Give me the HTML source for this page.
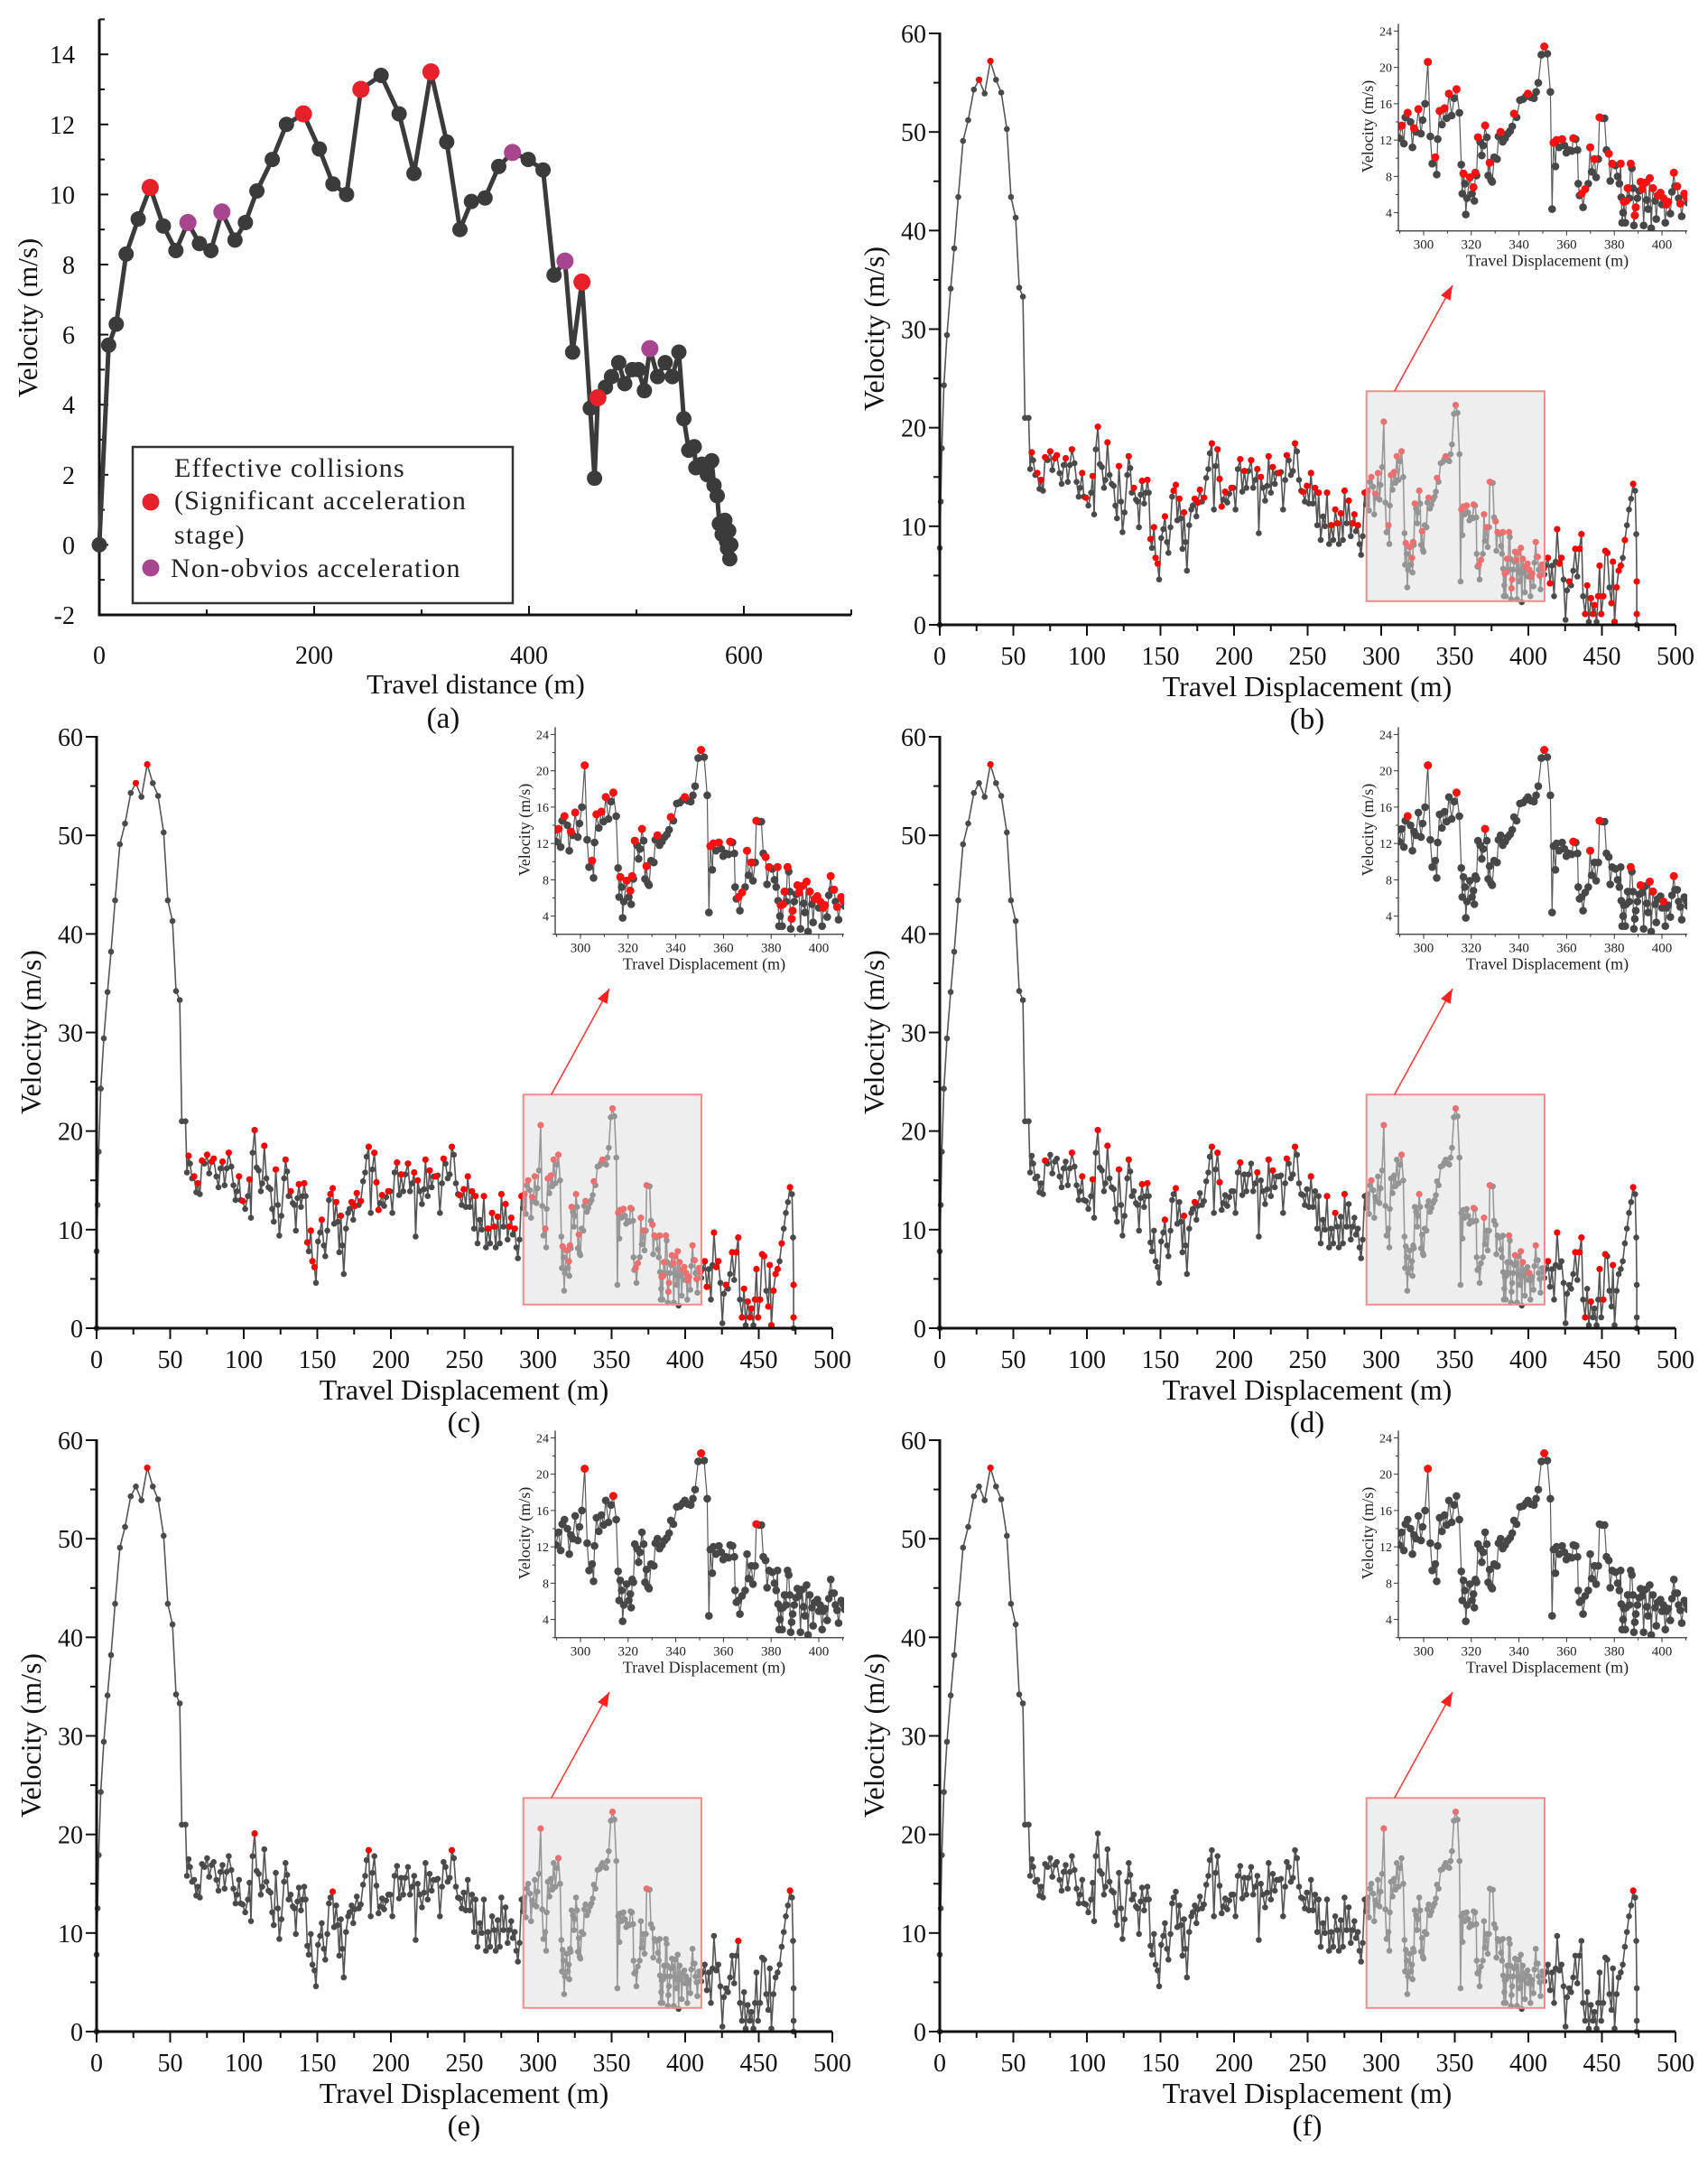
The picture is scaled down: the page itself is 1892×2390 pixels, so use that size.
<!DOCTYPE html>
<html><head><meta charset="utf-8"><title>Velocity figure</title>
<style>
html,body{margin:0;padding:0;background:#fff;}
svg{display:block;font-family:"Liberation Serif",serif;}
</style></head>
<body>
<svg id="fig" xmlns="http://www.w3.org/2000/svg" width="1892" height="2390" viewBox="0 0 1892 2390">
<rect x="0" y="0" width="1892" height="2390" fill="#fff"/>
</svg>
<script>
// ---------- Panel (a) data ----------
const distA = [0,8.7,15.8,25,36.2,47.4,59.6,71.3,82.5,93.2,103.9,114.1,126.3,136,146.7,161,174.2,190,204.8,217.5,230.2,243.5,262.3,279.1,292.9,308.7,323.4,335.7,346.4,359.1,371.8,384.6,399.3,413.1,423.3,433.5,440.6,449.3,457,461,464.1,471.2,476.8,483.5,489.1,496.2,501.8,507.4,512.5,519.7,526.8,533.4,539.5,544.1,548.7,553.8,555.3,560.9,566,570.1,572.2,575.2,577.2,579.8,582.3,583.8,584.8,585.9,586.9,587.9];
const velA = [0,5.7,6.3,8.3,9.3,10.2,9.1,8.4,9.2,8.6,8.4,9.5,8.7,9.2,10.1,11.0,12.0,12.3,11.3,10.3,10.0,13.0,13.4,12.3,10.6,13.5,11.5,9.0,9.8,9.9,10.8,11.2,11.0,10.7,7.7,8.1,5.5,7.5,3.9,1.9,4.2,4.5,4.8,5.2,4.6,5.0,5.0,4.4,5.6,4.8,5.2,4.8,5.5,3.6,2.7,2.8,2.2,2.3,2.0,2.4,1.7,1.4,0.6,0.3,0.7,0.1,-0.1,0.4,-0.4,0];
// 0 = plain, 1 = effective collision (red), 2 = non-obvious acceleration (purple)
const typeA = [0,0,0,0,0,1,0,0,2,0,0,2,0,0,0,0,0,1,0,0,0,1,0,0,0,1,0,0,0,0,0,2,0,0,0,2,0,1,0,0,1,0,0,0,0,0,0,0,2,0,0,0,0,0,0,0,0,0,0,0,0,0,0,0,0,0,0,0,0,0];
const xTicksA = [0,200,400,600];
const yTicksA = [-2,0,2,4,6,8,10,12,14];
const legendA = ["Effective collisions","(Significant acceleration","stage)","Non-obvios acceleration"];

// ---------- Panels (b)-(f) data: [displacement m, velocity m/s, highlight level] ----------
const series = [
[0,0,0],[0,7.8,0],[0.7,12.5,0],[1.4,17.9,0],[2.8,24.3,0],[4.9,29.4,0],[7.4,34.1,0],[9.8,38.2,0],[12.6,43.4,0],[15.8,49.1,0],[19.3,51.2,0],[23.2,54.3,0],[26.7,55.3,1],[30.5,53.9,0],[34.4,57.2,4],[38.2,55.3,0],[41.8,54,0],[45.6,50.3,0],[48.4,43.4,0],[51.6,41.3,0],[54,34.2,0],[56.5,33.3,0],[57.9,21,0],[60.4,21,0],
[61.4,15.8,0],[62.5,17.5,1],[63.5,16.7,0],[64.9,15.2,0],[66.3,15.4,1],[67.7,13.8,0],[68.8,14.7,1],[70.2,13.6,0],[71.6,17.0,2],[73.3,16.7,0],[75.1,17.6,1],[76.5,15.7,0],[78.2,16.9,1],[79.6,17.2,1],[81.4,15.4,0],[82.8,14.3,0],[84.2,16.2,0],[85.6,16.9,1],[87,14.5,0],[88.4,16.2,0],[89.8,17.8,2],[91.6,16.4,0],[93,14.5,0],[94.4,13,0],[95.4,13.9,0],[96.8,15.4,2],[97.9,13,0],[99.3,12.9,1],[101,12.1,0],[102.8,13.4,0],[103.9,15.1,2],[104.9,11.2,0],[106,17.8,0],[107.4,20.1,3],[108.8,16.3,0],[110.2,16,0],[111.6,13.9,0],[112.6,14.7,0],[114,18.5,2],[115.4,15.2,0],[116.8,14.3,0],[118.2,14.1,0],[119.3,12.1,0],[120.4,10.8,0],[121.8,16.1,2],[123.2,12.5,0],[124.2,9.4,0],[125.6,11.4,0],[127.4,15.2,0],[128.4,17.1,2],[129.5,15.9,0],[130.5,13.4,0],[131.9,13.9,1],[133.3,12.7,0],[134.4,12.5,0],[135.4,9.9,0],[136.5,13.2,0],[137.5,14.6,2],[138.9,12.3,0],[140,13.4,0],[141.1,14.7,2],[142.1,13.4,0],[143.2,8.7,1],[144.2,7.8,0],[145.6,9.9,1],[146.7,6.8,1],[148.1,6.2,1],[149.1,4.6,0],[150.5,8.8,0],[151.9,9.7,0],[153,11,2],[154.4,8.4,0],[155.4,7.3,0],[156.8,9.9,0],[157.9,13,0],[158.9,13.6,1],[160.4,14.2,3],[161.4,10.6,0],[162.8,12.8,1],[163.9,10.8,0],[164.9,7.7,0],[166,11.4,2],[167,8.4,0],[168,5.5,0],[169.5,10.1,0],[170.9,11.7,0],[171.9,12.1,0],[173.3,12.8,2],[174.4,11,0],[175.4,12.4,1],[176.8,13.7,1],[178.2,12.5,0],[179.6,12.9,1],[181.1,14.9,0],[182.5,15.8,0],[183.5,17.4,0],[184.9,18.4,3],[186.3,11.7,0],[187.4,16.1,0],[188.8,17.8,2],[190.2,14.8,2],[191.6,12,1],[192.6,12.7,0],[194,13.5,1],[195.4,12.4,0],[196.8,13.3,0],[198.2,13.9,1],[199.6,13.9,0],[201,11.7,0],[202.5,15.8,0],[204.2,16.8,2],[205.6,13.5,0],[207,15.6,1],[208.4,13.9,0],[209.8,15.6,0],[211.6,16.7,1],[213,13.9,0],[214.4,14.7,0],[215.8,15.8,2],[216.8,9.3,0],[218.2,15,1],[219.6,13.9,0],[221.1,12.6,0],[222.5,14.1,0],[223.5,17.1,2],[225,13.4,0],[226.3,16,2],[227.7,14.3,0],[229.1,15.4,0],[230.5,15.4,1],[231.9,15.5,0],[233.3,11.7,0],[234.7,14.7,0],[235.8,17.2,2],[237.2,16.7,0],[238.6,15.2,0],[240,15.6,0],[241.4,18.4,3],[242.8,17.6,0],[244.2,14.7,0],[245.6,13.6,0],[246.7,13.5,1],[248.1,12.5,0],[249.5,14.1,1],[250.9,12.3,0],[252.3,15.4,2],[253.7,12.3,0],[255.1,13.9,1],[256.5,10.1,0],[257.5,13.4,1],[258.9,8.6,0],[260.4,11,0],[261.8,10,0],[263.2,13.4,2],[264.6,8.2,0],[266,10.1,1],[267.4,8.6,0],[268.8,11.7,2],[270.2,10.3,1],[271.2,8.2,0],[272.6,11.3,1],[274,8.6,0],[275.1,13.6,2],[276.5,10.3,0],[277.9,12.6,1],[279.3,9,0],[280.4,10.3,1],[281.8,11.2,1],[282.8,9.5,0],[284.2,10.1,1],[285.3,8.2,0],[286.3,7.1,0],[287.4,9,0],[288.8,13.4,1],
[289.7,12.2,0],[290.8,13.6,1],[291.7,11.6,0],[292.3,14.5,0],[293.3,15.0,2],[294.5,14.0,0],[295.3,11.2,0],[296,13.3,1],[296.8,12.9,0],[297.8,15.4,1],[298.9,12.7,0],[299.6,14.2,0],[300.6,16.0,0],[301.8,20.6,4],[302.8,12.4,0],[303.6,9.4,0],[304.9,10.1,1],[305.5,8.2,0],[305.9,12.1,0],[306.7,15.2,1],[307.7,13.7,0],[308.8,15.5,1],[309.7,14.4,0],[310.6,17.1,1],[311.8,14.7,0],[312.8,16.6,0],[313.8,17.6,3],[315,15.0,0],[315.8,9.3,0],[316.2,6.1,0],[316.7,8.3,1],[317.3,7.2,0],[317.7,3.8,0],[318.2,5.6,0],[319.4,7.9,1],[320.3,6.1,0],[320.9,6.8,1],[321.3,5.3,0],[321.7,8.4,1],[322.2,8.1,0],[322.8,12.3,1],[323.7,11.8,0],[324.4,10.3,0],[325,11.4,0],[325.8,13.6,2],[326.5,12.3,0],[327.1,8.1,0],[327.7,9.5,1],[328.3,7.6,0],[328.8,7.4,0],[329.6,10.1,0],[330.8,9.9,0],[331.4,12.4,0],[332.3,12.9,1],[333.2,11.8,0],[334.2,12.2,0],[335.3,12.7,0],[336.3,13.0,0],[337.2,13.5,0],[337.9,14.9,1],[339,14.5,0],[340.4,16.4,0],[341.7,16.5,0],[342.9,16.8,0],[343.8,17.1,1],[345.1,16.7,0],[346.3,16.6,0],[347.2,17.3,0],[348.1,18.3,0],[349.4,21.4,0],[350.6,22.3,4],[351.9,21.5,0],[353.2,17.3,0],[353.9,4.4,0],[354.5,11.7,1],[355.3,9.1,0],[355.8,12.0,1],[356.8,11.2,0],[358.1,12.1,1],[359.1,11.4,0],[359.9,10.6,0],[361,10.9,0],[362.2,10.8,0],[362.8,12.2,2],[363.8,12.1,0],[364.6,10.9,0],[364.9,7.2,0],[365.4,5.9,0],[366.3,6.1,1],[366.9,4.6,0],[367.8,6.6,1],[369.1,7.2,0],[369.9,11.2,2],[370.5,8.5,0],[371.7,9.9,1],[372.4,7.9,0],[373.3,9.9,0],[373.8,14.5,3],[375,14.4,0],[375.9,14.4,0],[376.7,10.9,0],[377.7,10.5,1],[378.3,7.5,0],[379.1,9.4,1],[380.5,9.2,0],[381.4,8.0,0],[382.1,7.2,0],[382.7,9.4,1],[382.9,5.7,0],[383.3,2.9,0],[383.7,4.0,0],[384,5.2,1],[384.6,2.9,0],[385,5.3,1],[385.6,6.7,1],[386.3,5.6,0],[386.9,9.4,2],[387.4,8.9,0],[387.8,6.7,0],[388.2,2.6,0],[388.6,3.7,1],[389,4.6,1],[389.7,5.6,0],[390.4,6.4,0],[391,7.4,2],[391.7,6.6,1],[392.3,2.6,0],[393,7.3,1],[393.6,5.4,0],[394.2,4.4,0],[394.9,7.8,2],[395.5,2.3,0],[396.2,6.7,2],[397.1,5.3,0],[397.6,3.3,0],[398.3,5.9,1],[399.4,6.2,1],[400,4.9,0],[400.6,5.6,2],[401.4,2.9,0],[401.9,4.9,1],[402.6,5.2,1],[403.5,3.9,0],[404.2,6.3,0],[405,8.4,2],[405.5,6.9,0],[406.4,6.9,1],[407,5.6,0],[407.7,5.0,1],[408.3,3.6,0],[409.4,6.1,1],[410.3,5.7,1],[410.9,5.1,0],
[411.6,6,0],[413.3,6.8,2],[414.7,4.2,1],[416.1,6,0],[417.5,2.9,0],[418.6,6.4,0],[419.6,9.7,2],[421.1,6.2,1],[422.5,6.8,1],[423.9,4.6,0],[425.3,0.5,0],[426.3,3.5,0],[427.7,4.4,1],[429.1,4,0],[430.5,5.5,0],[431.9,7.7,2],[433.3,4.9,0],[434.7,7.7,2],[436.1,9.2,3],[437.2,2.9,0],[438.6,1.1,2],[440,4,1],[441.1,0.3,0],[442.5,2.7,2],[443.9,1.1,1],[445,2,1],[446.4,0.3,0],[447.4,2.9,1],[448.4,6,2],[449.5,1.1,1],[450.9,2.9,2],[452.3,7.5,2],[453.7,7.3,1],[455.1,3.8,0],[456.5,2.2,1],[457.5,6.4,2],[458.6,0.3,1],[460,3.8,1],[461.4,5.5,1],[462.8,6,1],[464.2,6.8,0],[465.6,8.6,1],[467,10.1,0],[468.4,11.7,0],[469.8,12.8,0],[471.2,14.3,4],[472.6,13.6,0],[473.3,9.2,0],[473.7,4.4,1],[473.7,1.1,1],[473.7,0,0]
];
const dist = series.map(p => p[0]);
const vel = series.map(p => p[1]);
const lvl = series.map(p => p[2]);
const xTicksMain = [0,50,100,150,200,250,300,350,400,450,500];
const yTicksMain = [0,10,20,30,40,50,60];
const xTicksInset = [300,320,340,360,380,400];
const yTicksInset = [4,8,12,16,20,24];
const zoomRange = [290, 411, 2.4, 23.7];
const panelLetters = ["(b)","(c)","(d)","(e)","(f)"];
const panelThresholds = [1,1,2,3,4];

const NS = "http://www.w3.org/2000/svg";
const svg = document.getElementById('fig');
function mk(tag, attrs, parent){
  const e = document.createElementNS(NS, tag);
  for (const k in attrs) e.setAttribute(k, attrs[k]);
  (parent || svg).appendChild(e);
  return e;
}
function txt(str, attrs, parent){
  const e = mk('text', attrs, parent);
  e.textContent = str;
  return e;
}

// ================= Panel (a) =================
(function(){
  const g = mk('g', {});
  
  
  const ax = d => 110 + d * 1.19;
  const ay = v => 603.4 - v * 38.8;
  const axes = mk('path', {d:`M${ax(0)} ${ay(15)} L${ax(0)} ${ay(-2)} L${ax(700)} ${ay(-2)}`, fill:'none', stroke:'#111', 'stroke-width':3}, g);
  
  
  for (let v = -2; v <= 15; v += 1) {
    const major = yTicksA.includes(v);
    mk('line', {x1:ax(0), x2:ax(0)+(major?10:6), y1:ay(v), y2:ay(v), stroke:'#111','stroke-width':2}, g);
  }
  for (let d = 0; d <= 700; d += 100) {
    const major = xTicksA.includes(d);
    mk('line', {x1:ax(d), x2:ax(d), y1:ay(-2), y2:ay(-2)-(major?10:6), stroke:'#111','stroke-width':2}, g);
  }
  yTicksA.forEach(v => {
    const t = txt(String(v), {x:83, y:ay(v)+10, 'font-size':28, 'text-anchor':'end', fill:'#111'}, g);
    
    
  });
  xTicksA.forEach(d => {
    const t = txt(String(d), {x:ax(d), y:735, 'font-size':28, 'text-anchor':'middle', fill:'#111'}, g);
    
    
  });
  const xt = txt('Travel distance (m)', {x:527, y:768, 'font-size':31, 'text-anchor':'middle', fill:'#111'}, g);
  
  
  const yt = txt('Velocity (m/s)', {x:0, y:0, 'font-size':31, 'text-anchor':'middle', fill:'#111', transform:'translate(41,352) rotate(-90)'}, g);
  
  
  const lt = txt('(a)', {x:491, y:806, 'font-size':33, 'text-anchor':'middle', fill:'#111'}, g);
  
  

  const line = mk('polyline', {points: distA.map((d,i)=>ax(d)+','+ay(velA[i])).join(' '), fill:'none', stroke:'#3b3b3b', 'stroke-width':5, 'stroke-linejoin':'round'}, g);
  
  
  distA.forEach((d,i) => {
    if (typeA[i] !== 0) return;
    const c = mk('circle', {cx:ax(d), cy:ay(velA[i]), r:8.5, fill:'#3b3b3b'}, g);
    
    
  });
  distA.forEach((d,i) => {
    if (typeA[i] === 0) return;
    const c = mk('circle', {cx:ax(d), cy:ay(velA[i]), r:9.5, fill: typeA[i]===1 ? '#e8202a' : '#a8458f'}, g);
    
    
  });
  // legend
  const lg = mk('g', {}, g);
  
  
  mk('rect', {x:147, y:495, width:421, height:173, fill:'#fff', stroke:'#333', 'stroke-width':2.5}, lg);
  const ys = [528, 564, 602, 639];
  const xs = [193, 193, 193, 189];
  legendA.forEach((s,i) => {
    const t = txt(s, {x:xs[i], y:ys[i], 'font-size':30, fill:'#222', 'letter-spacing':'1.2'}, lg);
    
    
  });
  const m1 = mk('circle', {cx:167, cy:556, r:9.5, fill:'#e8202a'}, lg);
  
  
  const m2 = mk('circle', {cx:167, cy:629, r:9.5, fill:'#a8458f'}, lg);
  
  
})();

// ================= Panels (b)-(f) =================
const layout = [
  {ox:1041, top:37},
  {ox:107,  top:816},
  {ox:1041, top:816},
  {ox:107,  top:1595},
  {ox:1041, top:1595}
];

function drawPanel(idx){
  const P = layout[idx];
  const th = panelThresholds[idx];
  const letter = panelLetters[idx];
  const g = mk('g', {});
  
  
  const W = 815, H = 655;
  const sx = d => P.ox + d * W / 500;
  const sy = v => P.top + (60 - v) * H / 60;

  // series
  const line = mk('polyline', {points: dist.map((d,i)=>sx(d).toFixed(1)+','+sy(vel[i]).toFixed(1)).join(' '), fill:'none', stroke:'#555', 'stroke-width':1.6}, g);
  
  
  dist.forEach((d,i) => {
    const c = mk('circle', {cx:sx(d).toFixed(1), cy:sy(vel[i]).toFixed(1), r:3.3, fill:'#4a4a4a'}, g);
    
    
  });
  dist.forEach((d,i) => {
    if (lvl[i] < th) return;
    const c = mk('circle', {cx:sx(d).toFixed(1), cy:sy(vel[i]).toFixed(1), r:3.6, fill:'#ff0000'}, g);
    
    
  });

  // zoom box
  const zb = mk('rect', {x:sx(zoomRange[0]), y:sy(zoomRange[3]), width:sx(zoomRange[1])-sx(zoomRange[0]), height:sy(zoomRange[2])-sy(zoomRange[3]), fill:'rgba(222,222,222,0.5)', stroke:'#f28b8b', 'stroke-width':2}, g);
  
  

  // arrow
  const ax1 = sx(zoomRange[0]) + 31, ay1 = sy(zoomRange[3]);
  const ax2 = P.ox + 568, ay2 = P.top + 279;
  const ar = mk('line', {x1:ax1, y1:ay1, x2:ax2, y2:ay2, stroke:'#ff3b3b', 'stroke-width':1.6}, g);
  
  
  const ang = Math.atan2(ay2-ay1, ax2-ax1);
  const hl = 16, hw = 6;
  const bx = ax2 - hl*Math.cos(ang), by = ay2 - hl*Math.sin(ang);
  const ah = mk('polygon', {points:`${ax2},${ay2} ${bx - hw*Math.sin(ang)},${by + hw*Math.cos(ang)} ${bx + hw*Math.sin(ang)},${by - hw*Math.cos(ang)}`, fill:'#ff2020'}, g);
  
  

  // axes
  const axes = mk('path', {d:`M${P.ox} ${P.top-1} L${P.ox} ${sy(0)} L${sx(500)} ${sy(0)}`, fill:'none', stroke:'#111', 'stroke-width':3}, g);
  
  
  for (let v = 0; v <= 60; v += 5) {
    const major = yTicksMain.includes(v);
    mk('line', {x1:P.ox - (major?12:7), x2:P.ox, y1:sy(v), y2:sy(v), stroke:'#111', 'stroke-width':2}, g);
  }
  for (let d = 0; d <= 500; d += 25) {
    const major = xTicksMain.includes(d);
    mk('line', {x1:sx(d), x2:sx(d), y1:sy(0), y2:sy(0)+(major?12:7), stroke:'#111', 'stroke-width':2}, g);
  }
  yTicksMain.forEach(v => {
    const t = txt(String(v), {x:P.ox-15, y:sy(v)+10, 'font-size':28, 'text-anchor':'end', fill:'#111'}, g);
    
    
  });
  xTicksMain.forEach(d => {
    const t = txt(String(d), {x:sx(d), y:sy(0)+44, 'font-size':28, 'text-anchor':'middle', fill:'#111'}, g);
    
    
  });
  const xt = txt('Travel Displacement (m)', {x:P.ox+407, y:sy(0)+79, 'font-size':32, 'text-anchor':'middle', fill:'#111'}, g);
  
  
  const yt = txt('Velocity (m/s)', {x:0, y:0, 'font-size':32, 'text-anchor':'middle', fill:'#111', transform:`translate(${P.ox-62},${P.top+327}) rotate(-90)`}, g);
  
  
  const lt = txt(letter, {x:P.ox+407, y:sy(0)+115, 'font-size':33, 'text-anchor':'middle', fill:'#111'}, g);
  
  

  // ---- inset ----
  const ig = mk('g', {}, g);
  
  
  const iL = P.ox + 508, iR = iL + 320;
  const ix = d => iL + (d - 289.4) * 320 / 121.2;
  const iy = v => P.top - 2.6 + (24 - v) * 10.06;
  const iB = iy(2);
  const cid = 'clip' + idx;
  const cp = mk('clipPath', {id:cid}, ig);
  mk('rect', {x:iL, y:iy(24.8), width:iR-iL, height:iB-iy(24.8)}, cp);
  const ip = mk('g', {'clip-path':`url(#${cid})`}, ig);
  const il = mk('polyline', {points: dist.map((d,i)=>ix(d).toFixed(1)+','+iy(vel[i]).toFixed(1)).join(' '), fill:'none', stroke:'#5a5a5a', 'stroke-width':1.2}, ip);
  
  
  dist.forEach((d,i) => {
    if (d < 288 || d > 412) return;
    const c = mk('circle', {cx:ix(d).toFixed(1), cy:iy(vel[i]).toFixed(1), r:4.3, fill:'#474747'}, ip);
    
    
  });
  dist.forEach((d,i) => {
    if (d < 288 || d > 412 || lvl[i] < th) return;
    const c = mk('circle', {cx:ix(d).toFixed(1), cy:iy(vel[i]).toFixed(1), r:4.5, fill:'#ff1010'}, ip);
    
    
  });
  mk('path', {d:`M${iL} ${iy(24.8)} L${iL} ${iB} L${iR} ${iB}`, fill:'none', stroke:'#333', 'stroke-width':1.3}, ig);
  for (let v = 2; v <= 24; v += 2) {
    const major = yTicksInset.includes(v);
    mk('line', {x1:iL-(major?5:3), x2:iL, y1:iy(v), y2:iy(v), stroke:'#333', 'stroke-width':1}, ig);
  }
  for (let d = 290; d <= 410; d += 10) {
    const major = xTicksInset.includes(d);
    mk('line', {x1:ix(d), x2:ix(d), y1:iB, y2:iB+(major?5:3), stroke:'#333', 'stroke-width':1}, ig);
  }
  yTicksInset.forEach(v => {
    const t = txt(String(v), {x:iL-7, y:iy(v)+5, 'font-size':14, 'text-anchor':'end', fill:'#222'}, ig);
    
    
  });
  xTicksInset.forEach(d => {
    const t = txt(String(d), {x:ix(d), y:iB+20, 'font-size':15, 'text-anchor':'middle', fill:'#222'}, ig);
    
    
  });
  const ixt = txt('Travel Displacement (m)', {x:(iL+iR)/2+5, y:iB+39, 'font-size':18, 'text-anchor':'middle', fill:'#222'}, ig);
  
  
  const iyt = txt('Velocity (m/s)', {x:0, y:0, 'font-size':18, 'text-anchor':'middle', fill:'#222', transform:`translate(${iL-28},${iy(13.5)}) rotate(-90)`}, ig);
  
  
}
for (let k = 0; k < 5; k++) drawPanel(k);
</script>
</body></html>
